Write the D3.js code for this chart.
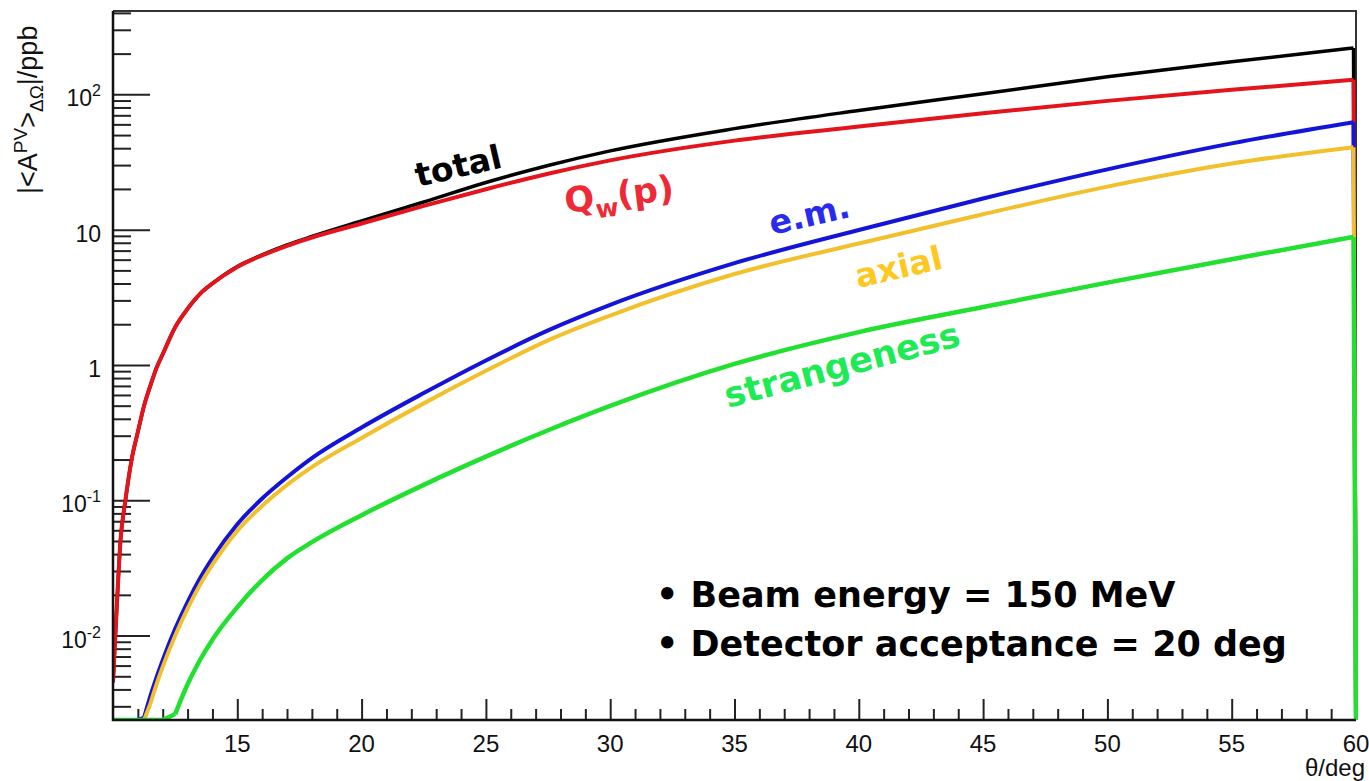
<!DOCTYPE html>
<html>
<head>
<meta charset="utf-8">
<script src="https://cdn.jsdelivr.net/npm/d3@7/dist/d3.min.js"></script>
<style>
    body { margin: 0; background: #fff; }
    svg { display: block; }
</style>
</head>
<body>
<div id="chart"></div>
<script>
// Angles (deg) shared by all curves
const theta = [10, 10.15, 10.3, 10.5, 10.75, 11, 11.25, 11.5, 11.75, 12, 12.5, 13, 13.5, 14, 15, 16, 17, 18,
    20, 22.5, 25, 27.5, 30, 35, 40, 45, 50, 55, 59.9, 60];

// |<A_PV>| in ppb (0 = below the axis range)
const totalVals = [0.0045, 0.016, 0.05, 0.1, 0.2, 0.32, 0.5, 0.7, 0.95, 1.2, 1.9, 2.6, 3.35, 4.0, 5.35, 6.5, 7.7, 8.9,
    11.6, 16.0, 22.3, 29.8, 38.2, 55.8, 76, 101, 135, 174, 220, 0];
const qwVals = [0.0045, 0.016, 0.05, 0.1, 0.2, 0.32, 0.5, 0.7, 0.95, 1.2, 1.9, 2.6, 3.35, 4.0, 5.3, 6.45, 7.6, 8.75,
    11.1, 15.0, 19.9, 25.9, 32.5, 45.5, 57.8, 72.6, 89.5, 108, 128, 0];
const emVals = [0, 0, 0, 0, 0, 0, 0.00248, 0.00355, 0.0049, 0.00658, 0.0112, 0.0177, 0.0265, 0.0374, 0.0665, 0.103, 0.148, 0.205,
    0.345, 0.62, 1.08, 1.80, 2.78, 5.65, 9.95, 17.0, 27.9, 43.4, 62.2, 0];
const axialVals = [0, 0, 0, 0, 0, 0, 0, 0.00312, 0.00436, 0.00587, 0.00998, 0.0158, 0.0237, 0.0334, 0.0594, 0.091, 0.130, 0.176,
    0.289, 0.52, 0.905, 1.52, 2.32, 4.70, 7.9, 13.0, 20.8, 30.8, 40.7, 0];
const strangeVals = [0, 0, 0, 0, 0, 0, 0, 0, 0, 0, 0.00263, 0.00437, 0.0066, 0.00933, 0.0162, 0.0257, 0.0372, 0.049,
    0.0776, 0.130, 0.210, 0.329, 0.498, 1.017, 1.75, 2.68, 4.06, 6.05, 8.83, 0];

// Tick labels
const xTickLabels = [15, 20, 25, 30, 35, 40, 45, 50, 55, 60];
const yTickValues = [0.01, 0.1, 1, 10, 100];
const yTickBase = ["10", "10", "1", "10", "10"];
const yTickExp = ["-2", "-1", "", "", "2"];

// Curves in drawing order (later ones cover earlier ones)
let series = [
    {name: "total", values: totalVals, color: "#000000", width: 3.5},
    {name: "Qw", values: qwVals, color: "#e3141c", width: 4},
    {name: "em", values: emVals, color: "#1414d8", width: 4},
    {name: "axial", values: axialVals, color: "#f2c02c", width: 4},
    {name: "strange", values: strangeVals, color: "#22e030", width: 4.5}
];

let width = 1369;
let height = 781;

let svg = d3.select("#chart")
    .append("svg")
    .attr("width", width)
    .attr("height", height);

// Plot frame in pixels
let plot = {left: 113, right: 1356, top: 11, bottom: 720};

let xScale = d3.scaleLinear()
    .domain([10, 60])
    .range([plot.left, plot.right]);

let yMin = Math.pow(10, -2.624);
let yMax = Math.pow(10, 2.616);
let yScale = d3.scaleLog()
    .domain([yMin, yMax])
    .range([plot.bottom, plot.top]);

svg.append("clipPath")
    .attr("id", "plotClip")
    .append("rect")
    .attr("x", plot.left)
    .attr("y", plot.top - 2)
    .attr("width", plot.right - plot.left + 2)
    .attr("height", plot.bottom - plot.top + 2);

// Top / right frame
svg.append("path")
    .attr("d", `M${plot.left},${plot.top}H${plot.right}V${plot.bottom}`)
    .attr("fill", "none")
    .attr("stroke", "#333")
    .attr("stroke-width", 2);

// Minor / major ticks on both axes (pointing into the plot)
let xMinor = d3.range(11, 60, 1).filter(d => d % 5 !== 0);
let yMinor = [];
for (let e = -3; e <= 2; e++) {
    for (let k = 2; k <= 9; k++) {
        let v = k * Math.pow(10, e);
        if (v > yMin && v < yMax) yMinor.push(v);
    }
}

function tickStyle(g) {
    g.select(".domain").remove();
    g.selectAll(".tick line").attr("stroke", "#222").attr("stroke-width", 2);
}

svg.append("g")
    .attr("transform", `translate(0, ${plot.bottom})`)
    .call(d3.axisTop(xScale).tickValues(xMinor).tickSize(11).tickFormat(""))
    .call(tickStyle);

svg.append("g")
    .attr("transform", `translate(0, ${plot.bottom})`)
    .call(d3.axisTop(xScale).tickValues(xTickLabels).tickSize(21).tickFormat(""))
    .call(tickStyle);

svg.append("g")
    .attr("transform", `translate(${plot.left}, 0)`)
    .call(d3.axisRight(yScale).tickValues(yMinor).tickSize(18).tickFormat(""))
    .call(tickStyle);

svg.append("g")
    .attr("transform", `translate(${plot.left}, 0)`)
    .call(d3.axisRight(yScale).tickValues(yTickValues).tickSize(37).tickFormat(""))
    .call(tickStyle);

// Curves: values below the axis range sit on the bottom edge,
// the flat start and the final drop are straight, the rest is smoothed
let straight = d3.line();
let smooth = d3.line().curve(d3.curveMonotoneX);

function curvePath(vals) {
    let pts = vals.map((v, i) => [xScale(theta[i]), yScale(Math.max(v, yMin))]);
    let first = vals.findIndex(v => v > 0);
    let last = vals.length - 1 - vals.slice().reverse().findIndex(v => v > 0);
    let d = "";
    if (first > 0) d += straight(pts.slice(0, first + 1));
    d += smooth(pts.slice(first, last + 1));
    if (last < vals.length - 1) d += straight(pts.slice(last));
    return d;
}

svg.append("g")
    .attr("clip-path", "url(#plotClip)")
    .selectAll("path")
    .data(series)
    .enter()
    .append("path")
    .attr("d", d => curvePath(d.values))
    .attr("fill", "none")
    .attr("stroke", d => d.color)
    .attr("stroke-width", d => d.width)
    .attr("stroke-linejoin", "round");

// Axis lines
svg.append("path")
    .attr("d", `M${plot.left},${plot.top}V${plot.bottom}H${plot.right}`)
    .attr("fill", "none")
    .attr("stroke", "#111")
    .attr("stroke-width", 2.5);

// X tick labels
svg.append("g").selectAll("text")
    .data(xTickLabels)
    .enter()
    .append("text")
    .attr("x", d => xScale(d))
    .attr("y", 752)
    .attr("text-anchor", "middle")
    .attr("font-family", "Liberation Sans, Arial, sans-serif")
    .attr("font-size", "24px")
    .attr("fill", "#111")
    .text(d => d);

// Y tick labels with exponents
let yLabels = svg.append("g").selectAll("text")
    .data(yTickValues)
    .enter()
    .append("text")
    .attr("x", 101)
    .attr("y", d => yScale(d) + 12)
    .attr("text-anchor", "end")
    .attr("font-family", "Liberation Sans, Arial, sans-serif")
    .attr("font-size", "23px")
    .attr("fill", "#111");

yLabels.append("tspan").text((d, i) => yTickBase[i]);
yLabels.append("tspan")
    .attr("dy", -10)
    .attr("font-size", "16px")
    .text((d, i) => yTickExp[i]);

// Axis titles
let yTitle = svg.append("text")
    .attr("transform", "translate(37, 194) rotate(-90)")
    .attr("font-family", "Liberation Sans, Arial, sans-serif")
    .attr("font-size", "27px")
    .attr("fill", "#111");
yTitle.append("tspan").text("|<A");
yTitle.append("tspan").attr("dy", -10).attr("font-size", "19px").text("PV");
yTitle.append("tspan").attr("dy", 10).text(">");
yTitle.append("tspan").attr("dy", 6).attr("font-size", "19px").text("ΔΩ");
yTitle.append("tspan").attr("dy", -6).text("|/ppb");

svg.append("text")
    .attr("x", 1365)
    .attr("y", 776)
    .attr("text-anchor", "end")
    .attr("font-family", "Liberation Sans, Arial, sans-serif")
    .attr("font-size", "24px")
    .attr("fill", "#111")
    .text("θ/deg");

// Curve labels
let boldFont = "DejaVu Sans, Verdana, sans-serif";

function curveLabel(x, y, angle, size, color) {
    return svg.append("text")
        .attr("transform", `translate(${x}, ${y}) rotate(${angle})`)
        .attr("font-family", boldFont)
        .attr("font-weight", "bold")
        .attr("font-size", size + "px")
        .attr("fill", color);
}

curveLabel(418, 187, -13, 33, "#000").text("total");

let qwLabel = curveLabel(566, 213, -7, 35, "#ee2a36");
qwLabel.append("tspan").text("Q");
qwLabel.append("tspan").attr("dy", 9).attr("font-size", "25px").text("w");
qwLabel.append("tspan").attr("dy", -9).text("(p)");

curveLabel(772, 235, -13, 33, "#2a2aef").text("e.m.");
curveLabel(858, 288, -13, 33, "#ffc81e").text("axial");
curveLabel(728, 408, -15, 35, "#1eea55").text("strangeness");

// Run conditions
let notes = ["• Beam energy = 150 MeV", "• Detector acceptance = 20 deg"];
svg.append("g").selectAll("text")
    .data(notes)
    .enter()
    .append("text")
    .attr("x", 656)
    .attr("y", (d, i) => 607 + i * 49)
    .attr("font-family", boldFont)
    .attr("font-weight", "bold")
    .attr("font-size", "35px")
    .attr("fill", "#000")
    .text(d => d);
</script>
</body>
</html>
